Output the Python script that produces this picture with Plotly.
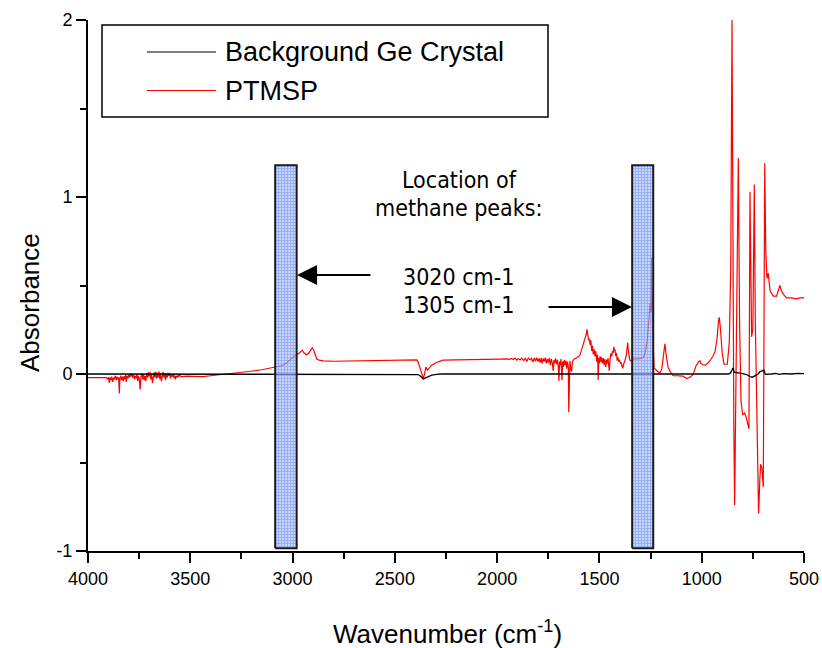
import plotly.graph_objects as go

# ---------------- data ----------------
wn_ptmsp = [4000, 3960, 3930, 3910, 3905, 3900, 3896, 3893, 3888, 3884, 3879, 3875, 3871, 3866,
            3862, 3858, 3854, 3850, 3847, 3844, 3840, 3836, 3832, 3828, 3824, 3820, 3816, 3813,
            3809, 3805, 3801, 3797, 3793, 3789, 3785, 3781, 3777, 3773, 3769, 3765, 3761, 3757,
            3753, 3749, 3745, 3741, 3737, 3733, 3729, 3725, 3721, 3717, 3713, 3709, 3705, 3701,
            3697, 3693, 3689, 3685, 3681, 3677, 3673, 3669, 3665, 3661, 3657, 3653, 3649, 3645,
            3641, 3637, 3633, 3629, 3625, 3621, 3617, 3613, 3609, 3605, 3601, 3597, 3593, 3589,
            3585, 3581, 3577, 3573, 3569, 3565, 3561, 3557, 3553, 3548, 3540, 3521, 3480, 3440,
            3400, 3358, 3320, 3277, 3240, 3195, 3150, 3114, 3086, 3073, 3050, 3032, 3010, 2995,
            2983, 2970, 2960, 2953, 2945, 2931, 2920, 2904, 2895, 2882, 2870, 2850, 2800, 2700,
            2622, 2500, 2393, 2387, 2377, 2368, 2361, 2355, 2348, 2341, 2330, 2320, 2296, 2265,
            2200, 2133, 2050, 1986,
            1953, 1940, 1930, 1921, 1912, 1905, 1898, 1888, 1880, 1870, 1862, 1855, 1848, 1839,
            1832, 1825, 1818, 1812, 1806, 1800, 1795, 1790, 1785, 1780, 1775, 1770, 1765, 1760,
            1755, 1750, 1745, 1740, 1735, 1730, 1726, 1722, 1718, 1714, 1709, 1705, 1701, 1698,
            1695, 1691, 1688, 1685, 1683, 1680, 1676, 1672, 1668, 1664, 1660, 1656, 1652, 1650,
            1647, 1644, 1640, 1636, 1632, 1628, 1624, 1616, 1608, 1600, 1595, 1588, 1582, 1576,
            1571, 1565, 1561, 1557, 1553, 1549, 1546, 1542, 1538, 1534, 1530, 1526, 1522, 1518,
            1513, 1509, 1506, 1503, 1500, 1497, 1493, 1490, 1486, 1481, 1477, 1473, 1469, 1465,
            1461, 1458, 1455, 1452, 1448, 1444, 1440, 1436, 1432, 1430, 1427, 1424, 1420, 1417,
            1413, 1410, 1406, 1402, 1398, 1394, 1390, 1386, 1382, 1378, 1374, 1368, 1364, 1362,
            1359, 1356, 1352, 1346, 1335,
            1320, 1302, 1285, 1277, 1266, 1258, 1252, 1248,
            1245, 1241, 1238, 1233, 1220, 1204, 1195, 1187, 1180, 1174, 1165, 1155, 1140, 1120,
            1092, 1074, 1060, 1043, 1028, 1015, 1009, 1004, 995, 984, 970, 960, 945, 935,
            925, 918, 914, 908, 900, 891, 875, 865, 858, 852, 848, 843, 839, 834,
            828, 821, 815, 808, 800, 790, 784, 777, 769, 764, 760, 756, 750, 743,
            738, 730, 722, 716, 712, 706, 699, 692, 687, 681, 675, 666, 650, 634,
            625, 618, 610, 601, 585, 560, 540, 520, 500]
abs_ptmsp = [-0.02, -0.022, -0.02, -0.02, -0.03, -0.018, -0.05, -0.02, -0.035, -0.015, -0.045, -0.02, -0.03, -0.01,
             -0.035, -0.015, -0.03, -0.02, -0.11, -0.025, -0.01, -0.035, -0.015, -0.04, -0.012, -0.03, -0.005, -0.045,
             -0.01, -0.025, -0.005, -0.02, 0.0, -0.015, 0.002, -0.02, -0.005, -0.03, -0.01, -0.025, 0.0, -0.04,
             -0.01, -0.03, -0.088, -0.015, 0.005, -0.03, 0.0, -0.035, -0.01, -0.04, 0.005, -0.02, 0.01, -0.015,
             0.012, -0.03, 0.0, -0.05, -0.005, 0.01, -0.02, 0.012, -0.025, 0.008, -0.02, 0.015, -0.03, 0.005,
             -0.04, 0.0, 0.012, -0.02, 0.005, -0.035, 0.0, -0.02, 0.006, -0.01, 0.004, -0.025, -0.005, -0.015,
             0.0, -0.02, -0.008, -0.03, -0.01, -0.02, -0.008, -0.015, -0.005, -0.012, -0.015, -0.012, -0.012, -0.015,
             -0.01, -0.005, 0.0, 0.005, 0.01, 0.017, 0.024, 0.032, 0.036, 0.041, 0.048, 0.06, 0.085, 0.1,
             0.11, 0.115, 0.13, 0.135, 0.12, 0.108, 0.12, 0.148, 0.13, 0.085, 0.078, 0.074, 0.072, 0.073,
             0.075, 0.077, 0.08, 0.07, 0.03, 0.0, -0.025, 0.0, 0.04, 0.022, 0.035, 0.05, 0.065, 0.078,
             0.08, 0.08, 0.082, 0.084,
             0.085, 0.083, 0.088, 0.082, 0.09, 0.078, 0.086, 0.08, 0.09, 0.076, 0.088, 0.07, 0.09, 0.08,
             0.088, 0.068, 0.09, 0.072, 0.092, 0.07, 0.088, 0.065, 0.09, 0.06, 0.088, 0.07, 0.092, 0.06,
             0.085, 0.065, 0.09, 0.05, 0.085, 0.06, 0.017, 0.08, 0.06, 0.088, 0.055, 0.08, 0.04, -0.04,
             0.07, 0.05, 0.085, 0.03, -0.035, 0.07, 0.04, 0.08, 0.05, 0.075, 0.03, 0.07, 0.04, -0.216,
             0.06, 0.075, 0.03, 0.013, 0.07, 0.08, 0.085, 0.088, 0.092, 0.1, 0.107, 0.13, 0.154, 0.18,
             0.2, 0.22, 0.252, 0.21, 0.19, 0.2, 0.165, 0.19, 0.13, 0.16, 0.11, 0.14, 0.1, 0.13,
             0.07, 0.11, -0.034, 0.09, 0.06, 0.1, 0.07, 0.095, 0.06, 0.09, 0.05, 0.085, 0.04, 0.08,
             0.06, 0.09, 0.05, 0.019, 0.08, 0.117, 0.1, 0.13, 0.12, 0.154, 0.13, 0.14, 0.1, 0.12,
             0.075, 0.095, 0.07, 0.08, 0.06, 0.065, 0.045, 0.032, 0.055, 0.065, 0.08, 0.11, 0.16, 0.177,
             0.14, 0.1, 0.08, 0.074, 0.085,
             0.085, 0.087, 0.095, 0.117, 0.19, 0.29, 0.4, 0.35,
             0.66, 0.3, 0.12, 0.035, 0.02, 0.005, 0.03, 0.12, 0.17, 0.11, 0.04, 0.015, -0.01, -0.01,
             -0.012, -0.026, -0.02, -0.005, 0.045, 0.07, 0.075, 0.06, 0.052, 0.05, 0.06, 0.075, 0.1, 0.125,
             0.2, 0.3, 0.32, 0.25, 0.12, 0.055, 0.055, 0.18, 0.6, 2.0, 0.5, -0.3, -0.74, -0.2,
             0.5, 1.22, 0.3, -0.15, -0.23, -0.22, -0.24, -0.27, -0.31, 1.03, 0.3, 0.21, 0.25, 1.07,
             0.3, -0.4, -0.79, -0.6, -0.51, -0.53, -0.64, 1.19, 0.7, 0.54, 0.57, 0.47, 0.44, 0.44,
             0.47, 0.5, 0.47, 0.45, 0.43, 0.43, 0.425, 0.43, 0.43]
assert len(wn_ptmsp) == len(abs_ptmsp)

wn_bg = [4000, 3000, 2400, 2387, 2377, 2368, 2361, 2350, 2340, 2320, 2296, 2270, 1900, 1700,
         1650, 1550, 1500, 900, 870, 860, 852, 846, 842, 835, 825, 813, 800, 780, 764, 752,
         740, 730, 724, 716, 708, 700, 696, 690, 686, 660, 640, 620, 600, 560, 530, 500]
abs_bg = [0.0, 0.0, 0.0, -0.003, -0.01, -0.02, -0.028, -0.022, -0.015, -0.006, -0.002, 0.0, 0.0, -0.002,
          0.0, -0.002, 0.0, 0.0, 0.0, 0.005, 0.02, 0.035, 0.01, 0.008, 0.005, 0.003, 0.002, -0.003, -0.015, -0.018,
          -0.012, -0.005, 0.0, 0.012, 0.015, 0.02, 0.022, 0.0, -0.002, 0.0, 0.003, -0.002, 0.002, 0.0, 0.004, 0.002]
assert len(wn_bg) == len(abs_bg)

# methane peak bands (wavenumber edges) and their vertical extent
band_edges = [(3085, 2980), (1340, 1237)]
band_bottom, band_top = -0.985, 1.18

x_ticks = [4000, 3500, 3000, 2500, 2000, 1500, 1000, 500]
y_ticks = [-1, 0, 1, 2]
y_tick_text = ["-1", "0", "1", "2"]

# ---------------- figure ----------------
FONT = "Liberation Sans, Arial, sans-serif"
NOTE_FONT = "DejaVu Sans Condensed, DejaVu Sans, sans-serif"

fig = go.Figure()
fig.add_trace(go.Scatter(x=wn_ptmsp, y=abs_ptmsp, mode="lines", name="PTMSP",
                         line=dict(color="#ff0000", width=1.2)))
fig.add_trace(go.Scatter(x=wn_bg, y=abs_bg, mode="lines", name="Background Ge Crystal",
                         line=dict(color="#000000", width=1.3)))
for (a, b) in band_edges:
    fig.add_trace(go.Scatter(
        x=[a, a, b, b, a], y=[band_bottom, band_top, band_top, band_bottom, band_bottom],
        mode="lines", fill="toself", showlegend=False, hoverinfo="skip",
        line=dict(color="#1a1a1a", width=2),
        fillcolor="rgba(150,178,245,0.6)",
        fillpattern=dict(shape="+", fgcolor="rgba(55,95,240,0.75)",
                         bgcolor="rgba(165,190,250,0.6)", size=3, solidity=0.5)))

# plot-area pixel frame for paper-coordinate helpers
PX0, PX1, PY0, PY1 = 88, 804, 20, 551
def px(xp):
    return (xp - PX0) / (PX1 - PX0)
def py(yp):
    return (PY1 - yp) / (PY1 - PY0)

shapes = [
    dict(type="rect", xref="paper", yref="paper", x0=px(102), x1=px(548), y0=py(117), y1=py(25),
         line=dict(color="black", width=1.5), fillcolor="white", layer="above"),
    dict(type="line", xref="paper", yref="paper", x0=px(147), x1=px(216), y0=py(52), y1=py(52),
         line=dict(color="black", width=1.2)),
    dict(type="line", xref="paper", yref="paper", x0=px(147), x1=px(216), y0=py(90.5), y1=py(90.5),
         line=dict(color="#ff0000", width=1.2)),
]

annotations = [
    dict(xref="paper", yref="paper", x=px(223), y=py(52), text="Background Ge Crystal",
         showarrow=False, xanchor="left", yanchor="middle", font=dict(family=FONT, size=27, color="black")),
    dict(xref="paper", yref="paper", x=px(223), y=py(91), text="PTMSP",
         showarrow=False, xanchor="left", yanchor="middle", font=dict(family=FONT, size=27, color="black")),
    dict(xref="paper", yref="paper", x=px(459), y=py(180), text="Location of", showarrow=False,
         xanchor="center", yanchor="middle", font=dict(family=NOTE_FONT, size=23, color="black")),
    dict(xref="paper", yref="paper", x=px(459), y=py(208), text="methane peaks:", showarrow=False,
         xanchor="center", yanchor="middle", font=dict(family=NOTE_FONT, size=23, color="black")),
    dict(xref="paper", yref="paper", x=px(458), y=py(277), text="3020 cm-1", showarrow=False,
         xanchor="center", yanchor="middle", font=dict(family=NOTE_FONT, size=23, color="black")),
    dict(xref="paper", yref="paper", x=px(458), y=py(305), text="1305 cm-1", showarrow=False,
         xanchor="center", yanchor="middle", font=dict(family=NOTE_FONT, size=23, color="black")),
    # arrows
    dict(x=2978, y=0.559, ax=2612, ay=0.559, xref="x", yref="y", axref="x", ayref="y", text="",
         showarrow=True, arrowhead=2, arrowsize=2, arrowwidth=2, arrowcolor="black", standoff=0),
    dict(x=1341, y=0.378, ax=1756, ay=0.378, xref="x", yref="y", axref="x", ayref="y", text="",
         showarrow=True, arrowhead=2, arrowsize=2, arrowwidth=2, arrowcolor="black", standoff=0),
    # axis titles
    dict(xref="paper", yref="paper", x=px(30), y=py(303), text="Absorbance", textangle=-90,
         showarrow=False, xanchor="center", yanchor="middle", font=dict(family=FONT, size=26, color="black")),
    dict(xref="paper", yref="paper", x=px(447), y=py(632), text="Wavenumber (cm<sup>-1</sup>)",
         showarrow=False, xanchor="center", yanchor="middle", font=dict(family=FONT, size=26, color="black")),
]

fig.update_layout(
    width=822, height=648, autosize=False,
    margin=dict(l=PX0, r=822 - PX1, t=PY0, b=648 - PY1, pad=0),
    paper_bgcolor="white", plot_bgcolor="white",
    showlegend=False, hovermode=False,
    shapes=shapes, annotations=annotations,
    font=dict(family=FONT, color="black"),
)
fig.update_xaxes(
    range=[4000, 500], tickvals=x_ticks, showgrid=False, zeroline=False, automargin=False,
    showline=True, linecolor="black", linewidth=2, ticks="outside", ticklen=10, tickwidth=2,
    tickcolor="black", tickfont=dict(family=FONT, size=18, color="black"),
    minor=dict(dtick=250, tick0=0, ticks="outside", ticklen=6, tickwidth=2, tickcolor="black", showgrid=False),
)
fig.update_yaxes(
    range=[-1, 2], tickvals=y_ticks, ticktext=y_tick_text, showgrid=False, zeroline=False, automargin=False,
    showline=True, linecolor="black", linewidth=2, ticks="outside", ticklen=10, tickwidth=2,
    tickcolor="black", tickfont=dict(family=FONT, size=18, color="black"),
    minor=dict(dtick=0.5, tick0=0, ticks="outside", ticklen=6, tickwidth=2, tickcolor="black", showgrid=False),
)

fig.write_html("out.html", config={"displayModeBar": False, "responsive": False},
               post_script="document.body.style.margin='0px';document.body.style.overflow='hidden';")
